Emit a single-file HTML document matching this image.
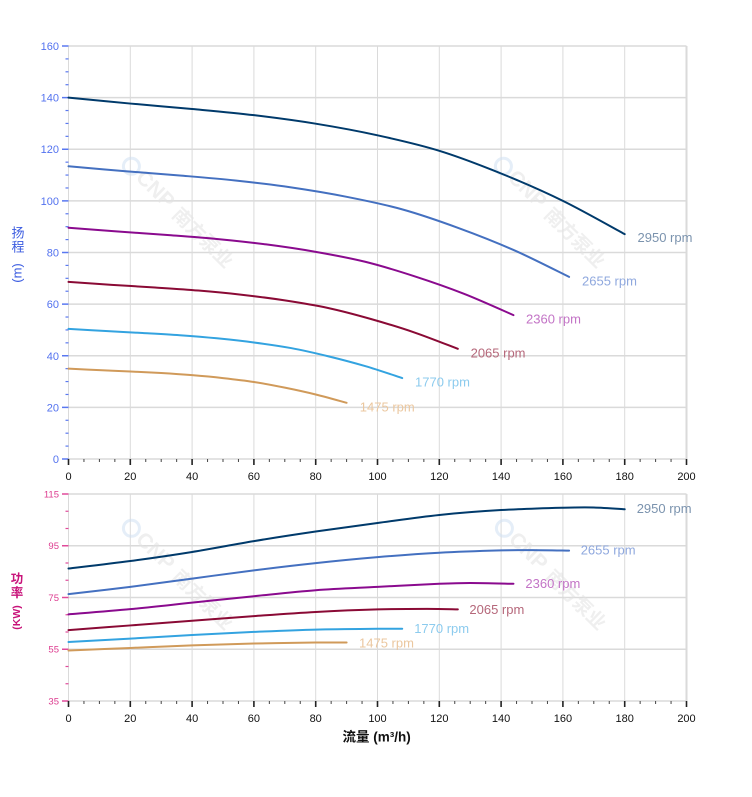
<!DOCTYPE html>
<html><head><meta charset="utf-8"><style>
html,body{margin:0;padding:0;background:#fff;}
svg{display:block;font-family:"Liberation Sans","Noto Sans CJK SC",sans-serif;}
</style></head><body>
<svg id="c" width="752" height="797" viewBox="0 0 752 797" xmlns="http://www.w3.org/2000/svg">
<g id="grid"></g>
<!-- watermarks -->
<g opacity="0.55">
  <g transform="translate(125,160) rotate(44.5)">
    <circle cx="9" cy="0" r="8" fill="none" stroke="#cfe0f2" stroke-width="3"/>
    <text x="20" y="0" dominant-baseline="central" font-size="21" font-weight="bold" fill="#e2e2e2">CNP</text>
    <text x="72" y="0" dominant-baseline="central" font-size="19" font-weight="bold" fill="#e2e2e2" font-family="'Noto Sans CJK SC',sans-serif">南方泵业</text>
  </g>
  <g transform="translate(497,160) rotate(44.5)">
    <circle cx="9" cy="0" r="8" fill="none" stroke="#cfe0f2" stroke-width="3"/>
    <text x="20" y="0" dominant-baseline="central" font-size="21" font-weight="bold" fill="#e2e2e2">CNP</text>
    <text x="72" y="0" dominant-baseline="central" font-size="19" font-weight="bold" fill="#e2e2e2" font-family="'Noto Sans CJK SC',sans-serif">南方泵业</text>
  </g>
  <g transform="translate(125,522) rotate(44.5)">
    <circle cx="9" cy="0" r="8" fill="none" stroke="#cfe0f2" stroke-width="3"/>
    <text x="20" y="0" dominant-baseline="central" font-size="21" font-weight="bold" fill="#e2e2e2">CNP</text>
    <text x="72" y="0" dominant-baseline="central" font-size="19" font-weight="bold" fill="#e2e2e2" font-family="'Noto Sans CJK SC',sans-serif">南方泵业</text>
  </g>
  <g transform="translate(498,522) rotate(44.5)">
    <circle cx="9" cy="0" r="8" fill="none" stroke="#cfe0f2" stroke-width="3"/>
    <text x="20" y="0" dominant-baseline="central" font-size="21" font-weight="bold" fill="#e2e2e2">CNP</text>
    <text x="72" y="0" dominant-baseline="central" font-size="19" font-weight="bold" fill="#e2e2e2" font-family="'Noto Sans CJK SC',sans-serif">南方泵业</text>
  </g>
</g>
<g id="ticks"></g>
<g id="curves" fill="none" stroke-width="2" stroke-linecap="round"></g>

<!-- top y labels -->
<g font-size="11" fill="#5372ef" text-anchor="end">
  <text x="59" y="50">160</text>
  <text x="59" y="101.6">140</text>
  <text x="59" y="153.2">120</text>
  <text x="59" y="204.9">100</text>
  <text x="59" y="256.5">80</text>
  <text x="59" y="308.1">60</text>
  <text x="59" y="359.8">40</text>
  <text x="59" y="411.4">20</text>
  <text x="59" y="463">0</text>
</g>
<!-- bottom y labels -->
<g font-size="9.5" fill="#dd3b8f" text-anchor="end">
  <text x="59" y="497.5">115</text>
  <text x="59" y="549.2">95</text>
  <text x="59" y="601">75</text>
  <text x="59" y="652.7">55</text>
  <text x="59" y="704.5">35</text>
</g>
<!-- x labels top -->
<g font-size="11" fill="#111" text-anchor="middle">
  <text x="68.5" y="480">0</text>
  <text x="130.3" y="480">20</text>
  <text x="192.1" y="480">40</text>
  <text x="253.9" y="480">60</text>
  <text x="315.7" y="480">80</text>
  <text x="377.5" y="480">100</text>
  <text x="439.3" y="480">120</text>
  <text x="501.1" y="480">140</text>
  <text x="562.9" y="480">160</text>
  <text x="624.7" y="480">180</text>
  <text x="686.5" y="480">200</text>
</g>
<g font-size="11" fill="#111" text-anchor="middle">
  <text x="68.5" y="722">0</text>
  <text x="130.3" y="722">20</text>
  <text x="192.1" y="722">40</text>
  <text x="253.9" y="722">60</text>
  <text x="315.7" y="722">80</text>
  <text x="377.5" y="722">100</text>
  <text x="439.3" y="722">120</text>
  <text x="501.1" y="722">140</text>
  <text x="562.9" y="722">160</text>
  <text x="624.7" y="722">180</text>
  <text x="686.5" y="722">200</text>
</g>

<!-- axis titles -->
<g fill="#3a5be0" font-size="13" text-anchor="middle">
  <text x="18" y="237.5" font-family="'Liberation Sans','Noto Sans CJK SC',sans-serif">扬</text>
  <text x="18" y="251.5" font-family="'Liberation Sans','Noto Sans CJK SC',sans-serif">程</text>
  <text x="0" y="0" transform="translate(17,273) rotate(-90)" dominant-baseline="central">(m)</text>
</g>
<g fill="#c8137a" font-size="12.5" text-anchor="middle" font-weight="bold">
  <text x="17" y="583" font-family="'Liberation Sans','Noto Sans CJK SC',sans-serif">功</text>
  <text x="17" y="597" font-family="'Liberation Sans','Noto Sans CJK SC',sans-serif">率</text>
  <text x="0" y="0" font-size="10.5" transform="translate(17,617.5) rotate(-90)" dominant-baseline="central">(KW)</text>
</g>
<text x="342.5" y="741.5" font-size="13.5" font-weight="bold" fill="#111">流量 (m³/h)</text>

<!-- curve labels top -->
<g font-size="13">
  <text x="637.5" y="242" fill="#7b93ae">2950 rpm</text>
  <text x="582" y="285.5" fill="#8fa8de">2655 rpm</text>
  <text x="526" y="323.5" fill="#c374c6">2360 rpm</text>
  <text x="470.6" y="357.5" fill="#b5677a">2065 rpm</text>
  <text x="415" y="386.5" fill="#8ccbee">1770 rpm</text>
  <text x="359.8" y="411.5" fill="#ebc79f">1475 rpm</text>
</g>
<g font-size="13">
  <text x="636.7" y="513" fill="#7b93ae">2950 rpm</text>
  <text x="580.7" y="554.7" fill="#8fa8de">2655 rpm</text>
  <text x="525.4" y="588" fill="#c374c6">2360 rpm</text>
  <text x="469.4" y="614" fill="#b5677a">2065 rpm</text>
  <text x="414.2" y="633" fill="#8ccbee">1770 rpm</text>
  <text x="359" y="647.4" fill="#ebc79f">1475 rpm</text>
</g>
</svg>
<script>
(function(){
var NS="http://www.w3.org/2000/svg";
function el(parent,tag,attrs){var e=document.createElementNS(NS,tag);for(var k in attrs)e.setAttribute(k,attrs[k]);parent.appendChild(e);return e;}
var grid=document.getElementById('grid'),ticks=document.getElementById('ticks'),curves=document.getElementById('curves');
function X(q){return 68.5+q*3.09;}
function YT(h){return 459-h*2.58125;}
function YB(p){return 701-(p-35)*2.5875;}
var gc="#dadada";
// vertical grid
for(var k=0;k<=10;k++){
  var x=68.5+61.8*k;
  var w=(k==10)?2:1;
  el(grid,'line',{x1:x,y1:46,x2:x,y2:459,stroke:gc,'stroke-width':w});
  el(grid,'line',{x1:x,y1:494,x2:x,y2:701,stroke:gc,'stroke-width':w});
}
for(var i=0;i<=8;i++){
  var y=YT(i*20);
  el(grid,'line',{x1:68.5,y1:y,x2:686.5,y2:y,stroke:gc,'stroke-width':1.5});
}
for(var i=0;i<=4;i++){
  var y=YB(35+i*20);
  el(grid,'line',{x1:68.5,y1:y,x2:686.5,y2:y,stroke:gc,'stroke-width':1.5});
}
// y ticks top
for(var i=0;i<=32;i++){
  var y=YT(i*5);var maj=(i%4==0);
  el(ticks,'line',{x1:maj?62:65.5,y1:y,x2:68.5,y2:y,stroke:'#5a78f0','stroke-width':maj?1.5:1.2});
}
for(var i=0;i<=12;i++){
  var y=YB(35+i*20/3);var maj=(i%3==0);
  el(ticks,'line',{x1:maj?62:65.5,y1:y,x2:68.5,y2:y,stroke:'#e04a9a','stroke-width':maj?1.5:1.2});
}
// x ticks
for(var k=0;k<=40;k++){
  var x=68.5+k*15.45;var maj=(k%4==0);
  el(ticks,'line',{x1:x,y1:459,x2:x,y2:maj?465:462,stroke:maj?'#222':'#444','stroke-width':maj?1.6:1});
  el(ticks,'line',{x1:x,y1:701,x2:x,y2:maj?707:704,stroke:maj?'#222':'#444','stroke-width':maj?1.6:1});
}
function path(pts){
  var d="M"+pts[0][0].toFixed(2)+","+pts[0][1].toFixed(2);
  for(var i=0;i<pts.length-1;i++){
    var p0=pts[i-1]||pts[i],p1=pts[i],p2=pts[i+1],p3=pts[i+2]||pts[i+1];
    var c1x=p1[0]+(p2[0]-p0[0])/6,c1y=p1[1]+(p2[1]-p0[1])/6;
    var c2x=p2[0]-(p3[0]-p1[0])/6,c2y=p2[1]-(p3[1]-p1[1])/6;
    d+=" C"+c1x.toFixed(2)+","+c1y.toFixed(2)+" "+c2x.toFixed(2)+","+c2y.toFixed(2)+" "+p2[0].toFixed(2)+","+p2[1].toFixed(2);
  }
  return d;
}
var base=[[0,140],[20,137.7],[40,135.6],[60,133.2],[80,129.9],[100,125.4],[120,119.4],[140,110.6],[160,100.0],[180,87.1]];
var series=[
 {r:1.0,c:'#003a6b',p:[[0,86.2],[20,89.1],[40,92.6],[60,96.8],[80,100.5],[100,103.8],[120,106.9],[140,108.8],[160,109.7],[170,109.8],[180,109.1]]},
 {r:0.9,c:'#4470c0',p:[[0,76.3],[20,79.1],[40,82.3],[60,85.5],[80,88.3],[100,90.6],[120,92.3],[140,93.2],[150,93.3],[162,93.1]]},
 {r:0.8,c:'#8a0a8e',p:[[0,68.5],[20,70.5],[40,73.0],[60,75.5],[80,77.8],[100,79.1],[120,80.3],[130,80.6],[144,80.3]]},
 {r:0.7,c:'#8a0a35',p:[[0,62.4],[20,64.2],[40,66.0],[60,67.8],[80,69.4],[100,70.4],[116,70.6],[126,70.4]]},
 {r:0.6,c:'#33a3e0',p:[[0,57.8],[20,59.1],[40,60.5],[60,61.7],[80,62.6],[100,62.9],[108,62.9]]},
 {r:0.5,c:'#d09a5a',p:[[0,54.5],[20,55.5],[40,56.5],[60,57.2],[80,57.6],[90,57.6]]}
];
series.forEach(function(s){
  var pts=base.map(function(b){return [X(b[0]*s.r),YT(b[1]*s.r*s.r)];});
  el(curves,'path',{d:path(pts),stroke:s.c});
  var pp=s.p.map(function(b){return [X(b[0]),YB(b[1])];});
  el(curves,'path',{d:path(pp),stroke:s.c});
});
})();
</script>
</body></html>
